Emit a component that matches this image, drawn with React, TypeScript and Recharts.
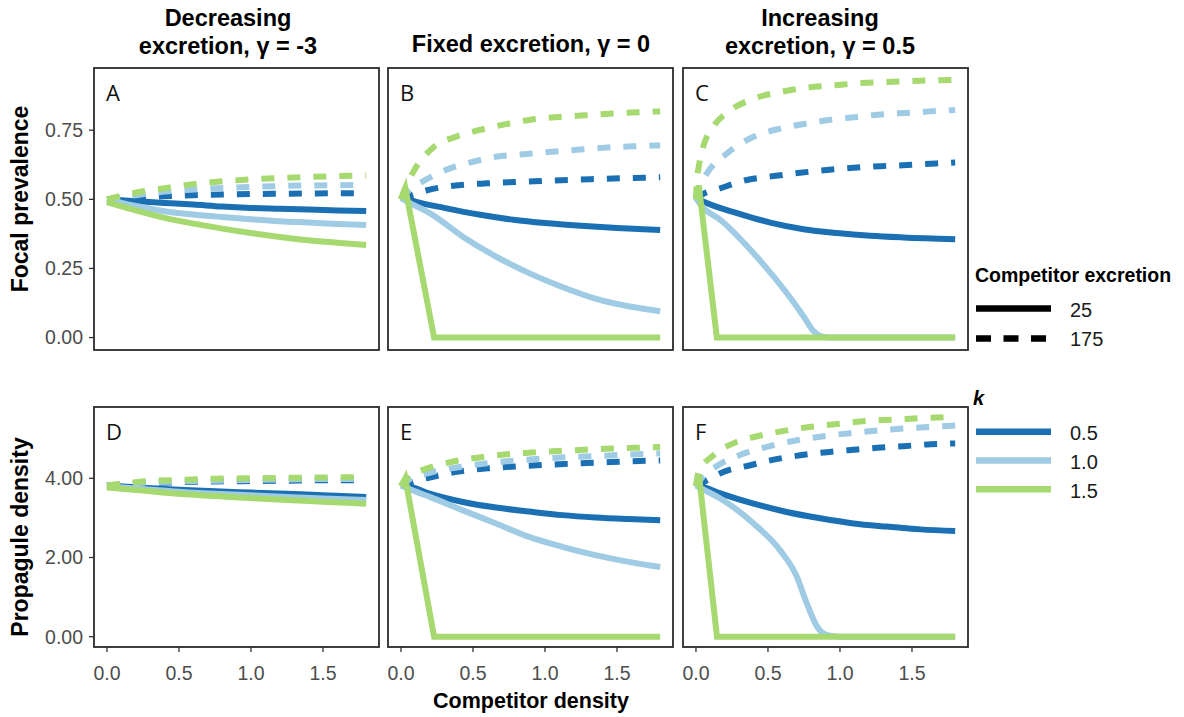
import React from 'react';
import { LineChart, Line, XAxis, YAxis } from 'recharts';

// ---------- shared scales / labels ----------
const X_TICKS = [0, 0.5, 1, 1.5];
const PREV_TICKS = [0, 0.25, 0.5, 0.75];
const DENS_TICKS = [0, 2, 4];
const K_LEVELS = ['0.5', '1.0', '1.5'];
const K_COLORS = ['#1b6fb3', '#9fcbe4', '#a6d96f'];
const EXCRETION_LEVELS = ['25', '175'];
const FACET_TITLES = [
  ['Decreasing', 'excretion, γ = -3'],
  ['Fixed excretion, γ = 0'],
  ['Increasing', 'excretion, γ = 0.5'],
];
const PANEL_LETTERS = ['A', 'B', 'C', 'D', 'E', 'F'];

// ---------- Panel A (focal prevalence, γ = -3) ----------
const A_k05_25 = [[0, 0.5], [0.2, 0.493], [0.4, 0.487], [0.6, 0.481], [0.8, 0.474], [1.0, 0.469], [1.2, 0.466], [1.4, 0.463], [1.6, 0.46], [1.8, 0.458]];
const A_k10_25 = [[0, 0.5], [0.2, 0.476], [0.4, 0.457], [0.6, 0.445], [0.8, 0.436], [1.0, 0.428], [1.2, 0.421], [1.4, 0.416], [1.6, 0.411], [1.8, 0.407]];
const A_k15_25 = [[0, 0.49], [0.2, 0.46], [0.4, 0.433], [0.6, 0.412], [0.8, 0.394], [1.0, 0.378], [1.2, 0.364], [1.4, 0.352], [1.6, 0.343], [1.8, 0.335]];
const A_k05_175 = [[0, 0.5], [0.2, 0.506], [0.4, 0.511], [0.6, 0.515], [0.8, 0.517], [1.0, 0.519], [1.2, 0.52], [1.4, 0.521], [1.6, 0.522], [1.8, 0.522]];
const A_k10_175 = [[0, 0.5], [0.2, 0.515], [0.4, 0.528], [0.6, 0.536], [0.8, 0.541], [1.0, 0.545], [1.2, 0.548], [1.4, 0.55], [1.6, 0.551], [1.8, 0.552]];
const A_k15_175 = [[0, 0.5], [0.2, 0.524], [0.4, 0.54], [0.6, 0.555], [0.8, 0.565], [1.0, 0.572], [1.2, 0.577], [1.4, 0.581], [1.6, 0.584], [1.8, 0.586]];

// ---------- Panel B (focal prevalence, γ = 0) ----------
const B_k05_25 = [[0, 0.505], [0.05, 0.5], [0.1, 0.492], [0.3, 0.469], [0.55, 0.444], [0.78, 0.426], [1.0, 0.414], [1.25, 0.404], [1.5, 0.396], [1.8, 0.389]];
const B_k10_25 = [[0, 0.505], [0.05, 0.49], [0.2, 0.45], [0.43, 0.365], [0.66, 0.293], [0.89, 0.233], [1.12, 0.183], [1.35, 0.141], [1.58, 0.113], [1.8, 0.095]];
const B_k15_25 = [[0, 0.5], [0.03, 0.54], [0.23, 0], [1.8, 0]];
const B_k05_175 = [[0, 0.5], [0.1, 0.52], [0.2, 0.535], [0.4, 0.551], [0.6, 0.558], [0.8, 0.563], [1.0, 0.567], [1.2, 0.571], [1.4, 0.574], [1.6, 0.577], [1.8, 0.58]];
const B_k10_175 = [[0, 0.5], [0.05, 0.53], [0.17, 0.57], [0.31, 0.606], [0.5, 0.636], [0.66, 0.654], [0.87, 0.664], [1.05, 0.672], [1.24, 0.68], [1.42, 0.687], [1.63, 0.692], [1.8, 0.695]];
const B_k15_175 = [[0, 0.5], [0.03, 0.54], [0.08, 0.594], [0.23, 0.69], [0.38, 0.726], [0.54, 0.75], [0.73, 0.772], [0.91, 0.789], [1.1, 0.798], [1.28, 0.804], [1.47, 0.81], [1.65, 0.815], [1.8, 0.818]];

// ---------- Panel C (focal prevalence, γ = 0.5) ----------
const C_k05_25 = [[0, 0.505], [0.05, 0.492], [0.285, 0.45], [0.516, 0.416], [0.747, 0.392], [0.978, 0.378], [1.21, 0.368], [1.44, 0.362], [1.8, 0.356]];
const C_k10_25 = [[0, 0.505], [0.05, 0.47], [0.168, 0.426], [0.4, 0.305], [0.63, 0.161], [0.747, 0.077], [0.817, 0.023], [0.887, 0.002], [1.0, 0], [1.8, 0]];
const C_k15_25 = [[0, 0.5], [0.02, 0.55], [0.145, 0], [1.8, 0]];
const C_k05_175 = [[0, 0.5], [0.04, 0.516], [0.17, 0.54], [0.354, 0.57], [0.54, 0.584], [0.724, 0.596], [0.91, 0.606], [1.094, 0.614], [1.28, 0.62], [1.466, 0.624], [1.67, 0.63], [1.8, 0.633]];
const C_k10_175 = [[0, 0.5], [0.03, 0.55], [0.076, 0.594], [0.215, 0.666], [0.4, 0.726], [0.585, 0.756], [0.77, 0.774], [0.955, 0.789], [1.12, 0.798], [1.3, 0.808], [1.49, 0.813], [1.65, 0.819], [1.8, 0.823]];
const C_k15_175 = [[0, 0.5], [0.005, 0.56], [0.02, 0.62], [0.05, 0.69], [0.12, 0.762], [0.24, 0.822], [0.4, 0.864], [0.585, 0.888], [0.77, 0.904], [0.955, 0.912], [1.14, 0.921], [1.33, 0.924], [1.51, 0.928], [1.8, 0.932]];

// ---------- Panel D (propagule density, γ = -3) ----------
const D_k05_25 = [[0, 3.82], [0.25, 3.76], [0.5, 3.71], [0.75, 3.67], [1.0, 3.64], [1.25, 3.61], [1.5, 3.57], [1.8, 3.53]];
const D_k10_25 = [[0, 3.8], [0.25, 3.73], [0.5, 3.66], [0.75, 3.61], [1.0, 3.57], [1.25, 3.53], [1.5, 3.49], [1.8, 3.45]];
const D_k15_25 = [[0, 3.77], [0.25, 3.69], [0.5, 3.61], [0.75, 3.55], [1.0, 3.5], [1.25, 3.45], [1.5, 3.41], [1.8, 3.36]];
const D_k05_175 = [[0, 3.82], [0.25, 3.87], [0.5, 3.9], [0.75, 3.92], [1.0, 3.93], [1.25, 3.94], [1.5, 3.95], [1.8, 3.95]];
const D_k10_175 = [[0, 3.82], [0.25, 3.89], [0.5, 3.92], [0.75, 3.94], [1.0, 3.96], [1.25, 3.97], [1.5, 3.98], [1.8, 3.98]];
const D_k15_175 = [[0, 3.82], [0.25, 3.92], [0.5, 3.96], [0.75, 3.99], [1.0, 4.0], [1.25, 4.01], [1.5, 4.02], [1.8, 4.03]];

// ---------- Panel E (propagule density, γ = 0) ----------
const E_k05_25 = [[0, 3.82], [0.05, 3.8], [0.2, 3.61], [0.43, 3.4], [0.66, 3.26], [0.89, 3.16], [1.12, 3.07], [1.35, 3.01], [1.58, 2.97], [1.8, 2.94]];
const E_k10_25 = [[0, 3.82], [0.05, 3.74], [0.2, 3.53], [0.43, 3.19], [0.66, 2.86], [0.89, 2.52], [1.12, 2.27], [1.35, 2.06], [1.58, 1.89], [1.8, 1.76]];
const E_k15_25 = [[0, 3.8], [0.03, 4.0], [0.23, 0], [1.8, 0]];
const E_k05_175 = [[0, 3.8], [0.1, 3.93], [0.2, 4.02], [0.4, 4.17], [0.6, 4.25], [0.8, 4.3], [1.0, 4.34], [1.2, 4.37], [1.4, 4.4], [1.6, 4.43], [1.8, 4.45]];
const E_k10_175 = [[0, 3.8], [0.05, 3.95], [0.2, 4.14], [0.4, 4.28], [0.6, 4.38], [0.8, 4.45], [1.0, 4.5], [1.2, 4.54], [1.4, 4.57], [1.6, 4.6], [1.8, 4.63]];
const E_k15_175 = [[0, 3.8], [0.04, 4.0], [0.174, 4.24], [0.347, 4.41], [0.532, 4.52], [0.717, 4.6], [0.903, 4.65], [1.087, 4.69], [1.273, 4.72], [1.458, 4.75], [1.63, 4.77], [1.8, 4.79]];

// ---------- Panel F (propagule density, γ = 0.5) ----------
const F_k05_25 = [[0, 3.82], [0.03, 3.8], [0.169, 3.62], [0.4, 3.36], [0.63, 3.15], [0.863, 2.99], [1.094, 2.86], [1.326, 2.78], [1.56, 2.71], [1.8, 2.67]];
const F_k10_25 = [[0, 3.82], [0.05, 3.72], [0.169, 3.49], [0.4, 2.86], [0.585, 2.18], [0.7, 1.52], [0.77, 0.84], [0.84, 0.26], [0.91, 0.04], [1.0, 0], [1.8, 0]];
const F_k15_25 = [[0, 3.8], [0.02, 4.1], [0.146, 0], [1.8, 0]];
const F_k05_175 = [[0, 3.8], [0.076, 3.95], [0.19, 4.16], [0.377, 4.33], [0.54, 4.47], [0.724, 4.58], [0.91, 4.66], [1.094, 4.72], [1.26, 4.77], [1.44, 4.81], [1.63, 4.86], [1.8, 4.88]];
const F_k10_175 = [[0, 3.8], [0.05, 4.05], [0.15, 4.32], [0.3, 4.58], [0.5, 4.8], [0.7, 4.96], [0.9, 5.07], [1.1, 5.15], [1.3, 5.22], [1.5, 5.27], [1.8, 5.33]];
const F_k15_175 = [[0, 3.8], [0.018, 4.16], [0.122, 4.58], [0.285, 4.92], [0.447, 5.08], [0.63, 5.21], [0.817, 5.31], [1.0, 5.38], [1.19, 5.45], [1.372, 5.48], [1.56, 5.52], [1.8, 5.55]];

// ---------- layout ----------
const FONT = '"Liberation Sans", Arial, Helvetica, sans-serif';
const X_DOMAIN = [-0.09, 1.889];
const PREV_DOMAIN = [-0.045, 0.975];
const DENS_DOMAIN = [-0.26, 5.8];
const COL_LEFT = [94, 388, 683];
const COL_W = 285;
const ROW_TOP = [68, 407];
const ROW_H = [282, 240];
const Y_AXIS_W = 94;
const X_AXIS_H = 42;

const PANEL_SERIES = [
  [[A_k05_25, A_k05_175], [A_k10_25, A_k10_175], [A_k15_25, A_k15_175]],
  [[B_k05_25, B_k05_175], [B_k10_25, B_k10_175], [B_k15_25, B_k15_175]],
  [[C_k05_25, C_k05_175], [C_k10_25, C_k10_175], [C_k15_25, C_k15_175]],
  [[D_k05_25, D_k05_175], [D_k10_25, D_k10_175], [D_k15_25, D_k15_175]],
  [[E_k05_25, E_k05_175], [E_k10_25, E_k10_175], [E_k15_25, E_k15_175]],
  [[F_k05_25, F_k05_175], [F_k10_25, F_k10_175], [F_k15_25, F_k15_175]],
];

const toPts = (arr: number[][]) => arr.map(([x, y]) => ({ x, y }));

function Panel({ index }: { index: number }) {
  const row = Math.floor(index / 3);
  const col = index % 3;
  const showY = col === 0;
  const showX = row === 1;
  const yW = showY ? Y_AXIS_W : 0;
  const xH = showX ? X_AXIS_H : 0;
  const yDomain = row === 0 ? PREV_DOMAIN : DENS_DOMAIN;
  const yTicks = row === 0 ? PREV_TICKS : DENS_TICKS;
  const tickStyle = { fill: '#4d4d4d', fontSize: 19.5, fontFamily: FONT };
  const lines: React.ReactNode[] = [];
  PANEL_SERIES[index].forEach((pair, k) => {
    pair.forEach((arr, e) => {
      // the k = 1.5 / low-excretion series collapses with sharp corners in panels B,C,E,F
      const sharp = k === 2 && e === 0 && col > 0;
      lines.push(
        <Line
          key={`k${k}e${e}`}
          name={`k=${K_LEVELS[k]}, excretion=${EXCRETION_LEVELS[e]}`}
          data={toPts(arr)}
          dataKey="y"
          type={sharp ? 'linear' : 'monotone'}
          stroke={K_COLORS[k]}
          strokeWidth={6}
          strokeDasharray={e === 1 ? '13 13' : undefined}
          dot={false}
          activeDot={false}
          isAnimationActive={false}
        />
      );
    });
  });
  return (
    <div style={{ position: 'absolute', left: COL_LEFT[col] - yW, top: ROW_TOP[row] }}>
      <LineChart width={COL_W + yW} height={ROW_H[row] + xH} margin={{ top: 0, right: 0, bottom: 0, left: 0 }}>
        <XAxis
          type="number"
          dataKey="x"
          domain={X_DOMAIN}
          ticks={X_TICKS}
          interval={0}
          allowDataOverflow
          hide={!showX}
          height={showX ? X_AXIS_H : 0}
          axisLine={false}
          tickLine={{ stroke: '#333', strokeWidth: 1.3 }}
          tickSize={5}
          tickMargin={14}
          tick={tickStyle}
          tickFormatter={(v: number) => v.toFixed(1)}
        />
        <YAxis
          type="number"
          domain={yDomain}
          ticks={yTicks}
          interval={0}
          allowDataOverflow
          hide={!showY}
          width={showY ? Y_AXIS_W : 0}
          axisLine={false}
          tickLine={{ stroke: '#333', strokeWidth: 1.3 }}
          tickSize={5}
          tickMargin={6}
          tick={tickStyle}
          tickFormatter={(v: number) => v.toFixed(2)}
        />
        {lines}
      </LineChart>
    </div>
  );
}

function Overlay() {
  const facetCenters = [228, 531, 820];
  const titleSize = 23.5;
  return (
    <svg width={1184} height={717} style={{ position: 'absolute', left: 0, top: 0, pointerEvents: 'none' }}>
      {/* panel borders */}
      {[0, 1].map((r) =>
        [0, 1, 2].map((c) => (
          <rect
            key={`b${r}${c}`}
            x={COL_LEFT[c]}
            y={ROW_TOP[r]}
            width={COL_W}
            height={ROW_H[r]}
            fill="none"
            stroke="#2b2b2b"
            strokeWidth={1.8}
          />
        ))
      )}
      {/* panel letters */}
      {PANEL_LETTERS.map((L, i) => (
        <text
          key={L}
          x={COL_LEFT[i % 3] + 12}
          y={ROW_TOP[Math.floor(i / 3)] + 33}
          fontFamily='"Open Sans", sans-serif'
          fontSize={22}
          fill="#111"
        >
          {L}
        </text>
      ))}
      {/* facet titles */}
      {FACET_TITLES.map((lines, i) =>
        lines.length === 2 ? (
          <g key={`t${i}`}>
            <text x={facetCenters[i]} y={26} textAnchor="middle" fontFamily={FONT} fontWeight="bold" fontSize={titleSize} fill="#000">
              {lines[0]}
            </text>
            <text x={facetCenters[i]} y={54} textAnchor="middle" fontFamily={FONT} fontWeight="bold" fontSize={titleSize} fill="#000">
              {lines[1]}
            </text>
          </g>
        ) : (
          <text key={`t${i}`} x={facetCenters[i]} y={52} textAnchor="middle" fontFamily={FONT} fontWeight="bold" fontSize={titleSize} fill="#000">
            {lines[0]}
          </text>
        )
      )}
      {/* axis titles */}
      <text x={28} y={199} transform="rotate(-90 28 199)" textAnchor="middle" fontFamily={FONT} fontWeight="bold" fontSize={23} fill="#000">
        Focal prevalence
      </text>
      <text x={28} y={537} transform="rotate(-90 28 537)" textAnchor="middle" fontFamily={FONT} fontWeight="bold" fontSize={23} fill="#000">
        Propagule density
      </text>
      <text x={531} y={708} textAnchor="middle" fontFamily={FONT} fontWeight="bold" fontSize={21.5} fill="#000">
        Competitor density
      </text>
      {/* legend: competitor excretion */}
      <text x={975} y={282} fontFamily={FONT} fontWeight="bold" fontSize={19.5} fill="#000">
        Competitor excretion
      </text>
      <line x1={976} x2={1051} y1={308.5} y2={308.5} stroke="#000" strokeWidth={6.5} />
      <text x={1070} y={317} fontFamily={FONT} fontSize={20} fill="#1a1a1a">
        {EXCRETION_LEVELS[0]}
      </text>
      <line x1={976} x2={1051} y1={338.5} y2={338.5} stroke="#000" strokeWidth={6.5} strokeDasharray="15 12.5" />
      <text x={1070} y={345.5} fontFamily={FONT} fontSize={20} fill="#1a1a1a">
        {EXCRETION_LEVELS[1]}
      </text>
      {/* legend: k */}
      <text x={973} y={405} fontFamily={FONT} fontWeight="bold" fontStyle="italic" fontSize={20} fill="#000">
        k
      </text>
      {K_LEVELS.map((k, i) => (
        <g key={`kl${i}`}>
          <line x1={976} x2={1051} y1={431.7 + i * 28.8} y2={431.7 + i * 28.8} stroke={K_COLORS[i]} strokeWidth={6.5} />
          <text x={1070} y={440 + i * 28.8} fontFamily={FONT} fontSize={20} fill="#1a1a1a">
            {k}
          </text>
        </g>
      ))}
    </svg>
  );
}

export default function App() {
  return (
    <div style={{ position: 'absolute', left: 0, top: 0, width: 1184, height: 717, background: '#fff', fontFamily: FONT, overflow: 'hidden' }}>
      {[0, 1, 2, 3, 4, 5].map((i) => (
        <Panel key={i} index={i} />
      ))}
      <Overlay />
    </div>
  );
}
